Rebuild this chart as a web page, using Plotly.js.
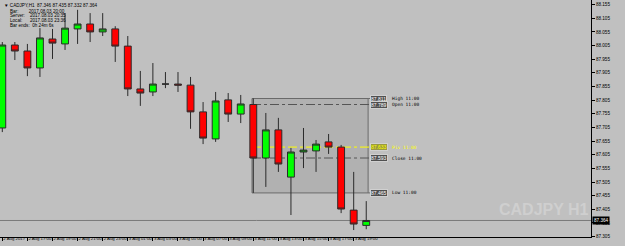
<!DOCTYPE html>
<html>
<head>
<meta charset="utf-8">
<script src="https://cdn.plot.ly/plotly-3.0.1.min.js"></script>
<style>html,body{margin:0;padding:0;background:#c0c0c0;}#chart{width:625px;height:246px;}</style>
</head>
<body>
<div id="chart"></div>
<script>
// ---- data (CADJPY H1, 2 Aug 15:00 .. 3 Aug 20:00) ----
const barIndex = [0,1,2,3,4,5,6,7,8,9,10,11,12,13,14,15,16,17,18,19,20,21,22,23,24,25,26,27,28,29];
const openP  = [87.703,88.007,87.985,87.923,88.029,88.011,88.066,88.084,88.055,88.066,88.003,87.846,87.835,87.864,87.864,87.860,87.762,87.663,87.806,87.754,87.789,87.593,87.696,87.523,87.615,87.619,87.652,87.633,87.402,87.346];
const highP  = [88.018,88.018,88.011,88.069,88.066,88.124,88.136,88.124,88.124,88.076,88.040,87.912,87.941,87.908,87.908,87.890,87.798,87.835,87.831,87.824,87.811,87.758,87.740,87.630,87.703,87.659,87.681,87.641,87.542,87.435];
const lowP   = [87.688,87.952,87.893,87.890,87.956,87.989,88.011,88.018,88.040,87.945,87.820,87.784,87.820,87.849,87.835,87.700,87.644,87.652,87.725,87.721,87.465,87.487,87.542,87.384,87.556,87.542,87.608,87.391,87.329,87.332];
const closeP = [88.007,87.985,87.923,88.033,88.014,88.069,88.084,88.055,88.066,88.003,87.846,87.831,87.864,87.864,87.860,87.762,87.666,87.802,87.754,87.791,87.593,87.696,87.571,87.615,87.622,87.644,87.633,87.406,87.351,87.364];

const xTickVals = [0,2,4,6,8,10,12,14,16,18,20,22,24,26,28];
const xTickText = ['2 Aug 2017','2 Aug 17:00','2 Aug 19:00','2 Aug 21:00','2 Aug 23:00','3 Aug 01:00','3 Aug 03:00','3 Aug 05:00','3 Aug 07:00','3 Aug 09:00','3 Aug 11:00','3 Aug 13:00','3 Aug 15:00','3 Aug 17:00','3 Aug 19:00'];
const yTickVals = [87.305,87.355,87.405,87.455,87.505,87.555,87.605,87.655,87.705,87.755,87.805,87.855,87.905,87.955,88.005,88.055,88.105,88.155];

// reference bar (3 Aug 11:00) and its pivot
const refBar = 20;
const refName = '11:00';
const pivotP = 87.633;

const headerLines = [
  '\u25BC CADJPY,H1  87.346 87.435 87.332 87.364',
  'Bar:        2017.08.03 20:00',
  'Server:    2017.08.03 20:35',
  'Local:      2017.08.03 23:36',
  'Bar ends:  0h 24m 6s'
];

// ---- styling ----
const FONT = 'Liberation Sans, Arial, sans-serif';
const lastIdx = closeP.length - 1;
const boxX0 = refBar - 0.1;
const boxX1 = refBar + 9.15;
const lblX = refBar + 9.3;
const nameX = refBar + 10.9;

const trace = {
  type: 'candlestick',
  x: barIndex, open: openP, high: highP, low: lowP, close: closeP,
  increasing: {line: {color: '#2b2b2b', width: 1}, fillcolor: '#00ff00'},
  decreasing: {line: {color: '#2b2b2b', width: 1}, fillcolor: '#ff0000'},
  whiskerwidth: 0, hoverinfo: 'skip', showlegend: false
};

const H = highP[refBar], O = openP[refBar], L = lowP[refBar], C = closeP[refBar];

const shapes = [
  {type:'rect', layer:'below', xref:'x', yref:'y', x0: boxX0, x1: boxX1, y0: L, y1: H,
   fillcolor:'rgba(0,0,0,0.08)', line:{color:'#6a6a6a', width:1}},
  {type:'line', layer:'below', xref:'x', yref:'y', x0: boxX1, x1: lblX, y0: H, y1: H, line:{color:'#6a6a6a', width:1}},
  {type:'line', layer:'below', xref:'x', yref:'y', x0: boxX1, x1: lblX, y0: L, y1: L, line:{color:'#6a6a6a', width:1}},
  {type:'line', layer:'below', xref:'x', yref:'y', x0: boxX0, x1: lblX, y0: O, y1: O, line:{color:'#555555', width:1, dash:'dashdot'}},
  {type:'line', layer:'below', xref:'x', yref:'y', x0: boxX0, x1: lblX, y0: pivotP, y1: pivotP, line:{color:'#ffff00', width:1, dash:'dashdot'}},
  {type:'line', layer:'below', xref:'x', yref:'y', x0: boxX0, x1: lblX, y0: C, y1: C, line:{color:'#555555', width:1, dash:'dashdot'}},
  {type:'line', layer:'below', xref:'paper', yref:'y', x0: 0, x1: 1, y0: closeP[lastIdx], y1: closeP[lastIdx], line:{color:'#7a7a7a', width:1}}
];

const levelDefs = [
  {v: H, name: 'High ' + refName, col: '#000000', box: '#505050', tc: '#ffffff'},
  {v: O, name: 'Open ' + refName, col: '#000000', box: '#505050', tc: '#ffffff'},
  {v: pivotP, name: 'Piv ' + refName, col: '#ffff00', box: '#9a9a40', tc: '#ffff00'},
  {v: C, name: 'Close ' + refName, col: '#000000', box: '#505050', tc: '#ffffff'},
  {v: L, name: 'Low ' + refName, col: '#000000', box: '#505050', tc: '#ffffff'}
];

const annotations = [];
levelDefs.forEach(d => {
  annotations.push({xref:'x', yref:'y', x: lblX, y: d.v, xanchor:'left', yanchor:'middle',
    text: d.v.toFixed(3), showarrow:false, bgcolor: d.box, bordercolor:'#d0d0d0', borderwidth:1, borderpad:0,
    font:{family: FONT, size: 5, color: d.tc}});
  annotations.push({xref:'x', yref:'y', x: nameX, y: d.v, xanchor:'left', yanchor:'middle',
    text: d.name, showarrow:false, font:{family: 'DejaVu Sans Mono, monospace', size: 4.5, color: d.col}});
});

headerLines.forEach((t, i) => {
  annotations.push({xref:'paper', yref:'paper', x: 0, y: 1, xanchor:'left', yanchor:'top',
    xshift: i === 0 ? 2 : 8, yshift: -(i === 0 ? 1 : 2 + i * 4.7),
    text: t, showarrow:false, font:{family: FONT, size: 4.6, color:'#000'}});
});

// current price label on the axis
annotations.push({xref:'paper', yref:'y', x: 1, y: closeP[lastIdx], xanchor:'left', yanchor:'middle', xshift: 1,
  text: closeP[lastIdx].toFixed(3), showarrow:false, bgcolor:'#000000', borderpad:1,
  font:{family: FONT, size: 4.6, color:'#ffffff'}});

// watermark
annotations.push({xref:'paper', yref:'paper', x: 1.0, y: 0.118, xanchor:'right', yanchor:'middle',
  text: '<b>CADJPY H1</b>', showarrow:false, font:{family: FONT, size: 16, color:'#cfcfcf'}});

const layout = {
  width: 625, height: 246,
  margin: {l: 0, r: 34, t: 0, b: 9, pad: 0},
  paper_bgcolor: '#c0c0c0', plot_bgcolor: '#c0c0c0',
  boxgap: 0.22,
  showlegend: false,
  xaxis: {
    range: [-0.183, 46.91], tickmode: 'array', tickvals: xTickVals, ticktext: xTickText,
    ticks: 'outside', ticklen: 3, tickcolor: '#000', tickwidth: 1, tickangle: 0,
    ticklabelposition: 'outside right', ticklabelstandoff: -3,
    tickfont: {family: FONT, size: 4.3, color: '#000'},
    showgrid: false, zeroline: false, showline: true, linecolor: '#000', linewidth: 1,
    rangeslider: {visible: false}, fixedrange: true
  },
  yaxis: {
    side: 'right', range: [87.3035, 88.172], tickmode: 'array', tickvals: yTickVals,
    tickformat: '.3f', ticks: 'outside', ticklen: 3, tickcolor: '#000', tickwidth: 1,
    tickfont: {family: FONT, size: 4.6, color: '#000'},
    showgrid: false, zeroline: false, showline: true, linecolor: '#000', linewidth: 1,
    fixedrange: true
  },
  shapes: shapes,
  annotations: annotations
};

Plotly.newPlot('chart', [trace], layout, {staticPlot: true, displayModeBar: false});
</script>
</body>
</html>
